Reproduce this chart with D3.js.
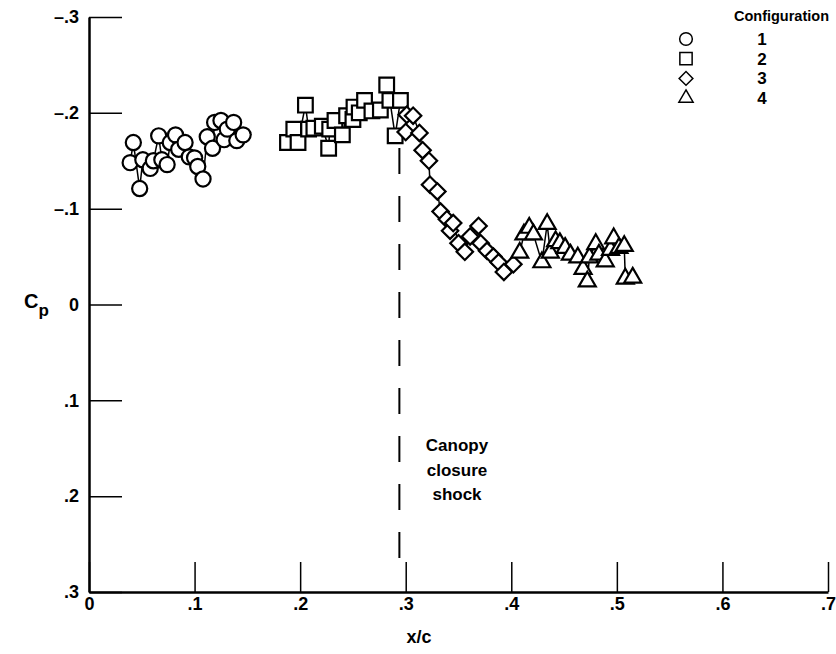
<!DOCTYPE html>
<html>
<head>
<meta charset="utf-8">
<script src="https://cdn.jsdelivr.net/npm/d3@7"></script>
<style>
  body { margin: 0; background: #fff; }
  text { font-family: "Liberation Sans", Arial, sans-serif; font-weight: bold; fill: #000; }
</style>
</head>
<body>
<div id="chart"></div>
<script>
// data (x/c vs Cp)
var config1X  = [0.039, 0.042, 0.048, 0.051, 0.058, 0.061, 0.066, 0.069, 0.074, 0.077, 0.082, 0.085, 0.091, 0.095, 0.100, 0.103, 0.108, 0.112, 0.117, 0.119, 0.125, 0.128, 0.131, 0.137, 0.140, 0.146];
var config1Cp = [-0.148, -0.169, -0.121, -0.151, -0.142, -0.150, -0.176, -0.151, -0.146, -0.169, -0.177, -0.162, -0.169, -0.154, -0.153, -0.144, -0.131, -0.175, -0.163, -0.190, -0.192, -0.172, -0.183, -0.190, -0.171, -0.177];

var config2X  = [0.188, 0.194, 0.198, 0.205, 0.208, 0.213, 0.221, 0.227, 0.228, 0.233, 0.240, 0.244, 0.250, 0.251, 0.256, 0.261, 0.268, 0.276, 0.282, 0.285, 0.290, 0.295];
var config2Cp = [-0.169, -0.183, -0.169, -0.208, -0.183, -0.184, -0.186, -0.163, -0.183, -0.192, -0.177, -0.197, -0.193, -0.206, -0.200, -0.213, -0.202, -0.203, -0.229, -0.213, -0.176, -0.213];

var config3X  = [0.300, 0.301, 0.307, 0.313, 0.316, 0.322, 0.323, 0.330, 0.333, 0.339, 0.342, 0.345, 0.350, 0.356, 0.361, 0.369, 0.371, 0.377, 0.383, 0.388, 0.393, 0.402];
var config3Cp = [-0.180, -0.198, -0.197, -0.179, -0.161, -0.150, -0.125, -0.118, -0.097, -0.089, -0.077, -0.085, -0.064, -0.055, -0.071, -0.082, -0.064, -0.056, -0.050, -0.044, -0.034, -0.042];

var config4X  = [0.408, 0.412, 0.417, 0.421, 0.429, 0.434, 0.437, 0.442, 0.446, 0.451, 0.456, 0.463, 0.468, 0.472, 0.474, 0.480, 0.483, 0.489, 0.494, 0.497, 0.502, 0.507, 0.508, 0.515];
var config4Cp = [-0.054, -0.073, -0.080, -0.073, -0.044, -0.084, -0.054, -0.066, -0.064, -0.059, -0.052, -0.049, -0.037, -0.024, -0.049, -0.063, -0.052, -0.045, -0.057, -0.069, -0.059, -0.061, -0.027, -0.028];

var configNames = ["1", "2", "3", "4"];
var xTicks = [0, 0.1, 0.2, 0.3, 0.4, 0.5, 0.6, 0.7];
var yTicks = [-0.3, -0.2, -0.1, 0, 0.1, 0.2, 0.3];
var shockX = 0.294;

var svgWidth = 836;
var svgHeight = 654;

var SVG = d3.select("#chart")
  .append("svg")
  .attr("width", svgWidth)
  .attr("height", svgHeight);

var xScale = d3.scaleLinear().domain([0, 0.7]).range([89, 828]);
var yScale = d3.scaleLinear().domain([-0.3, 0.3]).range([17, 592]);

function fmt(d) {
  if (d === 0) return "0";
  var s = String(Math.abs(+d.toFixed(2))).replace("0.", ".");
  return (d < 0 ? "\u2013" : "") + s;
}

// y axis (ticks point into the plot)
var yAxis = d3.axisLeft(yScale).tickValues(yTicks).tickSize(-33).tickSizeOuter(0)
  .tickPadding(10).tickFormat(fmt);
var gy = SVG.append("g")
  .attr("transform", `translate(${xScale(0)}, 0)`)
  .call(yAxis);
gy.select(".domain").attr("stroke-width", 2.5);
gy.selectAll(".tick line").attr("stroke-width", 1.5);
gy.selectAll("text").attr("font-size", "18px").attr("font-family", null);

// x axis
var xAxis = d3.axisBottom(xScale).tickValues(xTicks).tickSize(-30).tickSizeOuter(0)
  .tickPadding(5).tickFormat(fmt);
var gx = SVG.append("g")
  .attr("transform", `translate(0, ${yScale(0.3)})`)
  .call(xAxis);
gx.select(".domain").attr("stroke-width", 2.5);
gx.selectAll(".tick line").attr("stroke-width", 1.5);
gx.selectAll("text").attr("font-size", "18px").attr("font-family", null);

// axis titles
SVG.append("text")
  .attr("x", 419)
  .attr("y", 643)
  .attr("text-anchor", "middle")
  .attr("font-size", "18px")
  .text("x/c");

var cp = SVG.append("text")
  .attr("x", 24)
  .attr("y", 308)
  .attr("font-size", "20px")
  .text("C");
cp.append("tspan")
  .attr("dy", 8)
  .attr("font-size", "17px")
  .text("p");

// canopy closure shock
SVG.append("line")
  .attr("x1", xScale(shockX))
  .attr("x2", xScale(shockX))
  .attr("y1", 148)
  .attr("y2", 558)
  .attr("stroke", "#000")
  .attr("stroke-width", 2)
  .attr("stroke-dasharray", "26,22");

var shockLabel = ["Canopy", "closure", "shock"];
SVG.selectAll(".shock-label")
  .data(shockLabel)
  .enter()
  .append("text")
  .attr("class", "shock-label")
  .attr("x", 457)
  .attr("y", (d, i) => 451 + i * 24.5)
  .attr("text-anchor", "middle")
  .attr("font-size", "17px")
  .text(d => d);

// series
var symbols = [
  { type: d3.symbolCircle, size: 180, rot: 0 },
  { type: d3.symbolSquare, size: 215, rot: 0 },
  { type: d3.symbolSquare, size: 135, rot: 45 },
  { type: d3.symbolTriangle, size: 125, rot: 0 }
];
var seriesX = [config1X, config2X, config3X, config4X];
var seriesCp = [config1Cp, config2Cp, config3Cp, config4Cp];

var line = d3.line()
  .x(d => xScale(d[0]))
  .y(d => yScale(d[1]));

seriesX.forEach(function(xs, k) {
  var pts = xs.map((x, i) => [x, seriesCp[k][i]]);
  SVG.append("path")
    .datum(pts)
    .attr("d", line)
    .attr("fill", "none")
    .attr("stroke", "#000")
    .attr("stroke-width", 1.5);
  SVG.append("g")
    .selectAll("path")
    .data(pts)
    .enter()
    .append("path")
    .attr("d", d3.symbol().type(symbols[k].type).size(symbols[k].size))
    .attr("transform", d => `translate(${xScale(d[0])}, ${yScale(d[1])}) rotate(${symbols[k].rot})`)
    .attr("fill", "#fff")
    .attr("stroke", "#000")
    .attr("stroke-width", 2.2);
});

// legend
SVG.append("text")
  .attr("x", 829)
  .attr("y", 21)
  .attr("text-anchor", "end")
  .attr("font-size", "14.5px")
  .text("Configuration");

var legend = SVG.selectAll(".legend")
  .data(configNames)
  .enter()
  .append("g")
  .attr("class", "legend")
  .attr("transform", (d, i) => `translate(686, ${39 + i * 19.7})`);
legend.append("path")
  .attr("d", (d, i) => d3.symbol().type(symbols[i].type).size(symbols[i].size * 0.7)())
  .attr("transform", (d, i) => `rotate(${symbols[i].rot})`)
  .attr("fill", "#fff")
  .attr("stroke", "#000")
  .attr("stroke-width", 1.5);
legend.append("text")
  .attr("x", 76)
  .attr("y", 6)
  .attr("text-anchor", "middle")
  .attr("font-size", "17px")
  .text(d => d);
</script>
</body>
</html>
